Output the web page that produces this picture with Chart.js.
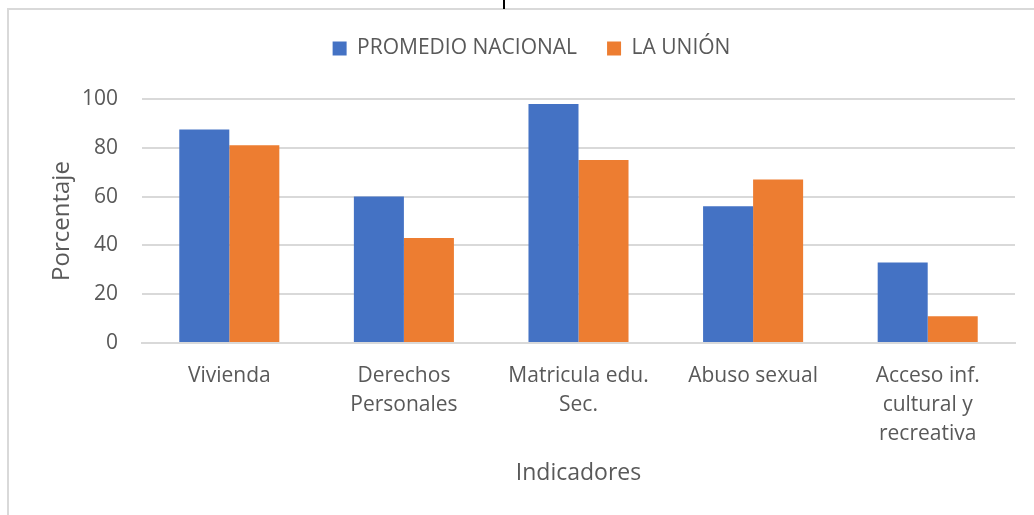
<!DOCTYPE html>
<html>
<head>
<meta charset="utf-8">
<script src="https://cdn.jsdelivr.net/npm/chart.js@4.4.0/dist/chart.umd.min.js"></script>
<style>
  html, body { margin: 0; padding: 0; background: #fff; }
  #wrap { position: relative; width: 1034px; height: 515px; overflow: hidden; }
  #frame { position: absolute; left: 7px; top: 8px; width: 1100px; height: 600px; border: 2px solid #d9d9d9; box-sizing: border-box; }
  #mark { position: absolute; left: 503px; top: 0; width: 2px; height: 9px; background: #000; }
  canvas { position: absolute; left: 0; top: 0; }
</style>
</head>
<body>
<div id="wrap">
  <div id="frame"></div>
  <div id="mark"></div>
  <canvas id="chart" width="1034" height="515"></canvas>
</div>
<script>
const categories = ['Vivienda', ['Derechos', 'Personales'], ['Matricula edu.', 'Sec.'], 'Abuso sexual', ['Acceso inf.', 'cultural y', 'recreativa']];
const seriesNames = ['PROMEDIO NACIONAL', 'LA UNIÓN'];
const promedioNacional = [87.5, 60, 98, 56, 33];
const laUnion = [81, 43, 75, 67, 11];
const yTicks = [0, 20, 40, 60, 80, 100];

const textColor = '#595959';
const fontFamily = "'Open Sans', sans-serif";

new Chart(document.getElementById('chart').getContext('2d'), {
  type: 'bar',
  data: {
    labels: categories,
    datasets: [
      { label: seriesNames[0], data: promedioNacional, backgroundColor: '#4472C4' },
      { label: seriesNames[1], data: laUnion, backgroundColor: '#ED7D31' }
    ]
  },
  options: {
    responsive: false,
    animation: false,
    devicePixelRatio: 1,
    layout: { padding: { left: 48, right: 19, top: 8, bottom: 0 } },
    datasets: { bar: { categoryPercentage: 0.573, barPercentage: 1.0 } },
    plugins: {
      legend: {
        position: 'top',
        labels: {
          color: textColor,
          font: { family: fontFamily, size: 21 },
          boxWidth: 14,
          boxHeight: 14,
          padding: 30
        }
      },
      tooltip: { enabled: false }
    },
    scales: {
      x: {
        grid: { display: false, drawTicks: false },
        border: { display: true, color: '#d9d9d9', width: 2 },
        ticks: {
          color: textColor,
          font: { family: fontFamily, size: 21, lineHeight: 1.4 },
          padding: 18,
          maxRotation: 0,
          autoSkip: false
        },
        title: {
          display: true,
          text: 'Indicadores',
          color: textColor,
          font: { family: fontFamily, size: 23 },
          padding: { top: 0, bottom: 28 }
        },
        afterFit(scale) { scale.height = 515 - 343; }
      },
      y: {
        min: 0,
        max: 100,
        afterBuildTicks(scale) { scale.ticks = yTicks.map(v => ({ value: v })); },
        grid: { color: '#d9d9d9', lineWidth: 2, drawTicks: false },
        border: { display: false },
        ticks: {
          color: textColor,
          font: { family: fontFamily, size: 21 },
          padding: 24
        },
        title: {
          display: true,
          text: 'Porcentaje',
          color: textColor,
          font: { family: fontFamily, size: 24 },
          padding: { top: 0, bottom: 0 }
        },
        afterFit(scale) { scale.width = 142 - 48; }
      }
    }
  },
  plugins: [{
    id: 'legendGap',
    beforeInit(chart) {
      const fit = chart.legend.fit;
      chart.legend.fit = function() {
        fit.call(this);
        this.height += 30;
      };
    }
  }]
});
</script>
</body>
</html>
